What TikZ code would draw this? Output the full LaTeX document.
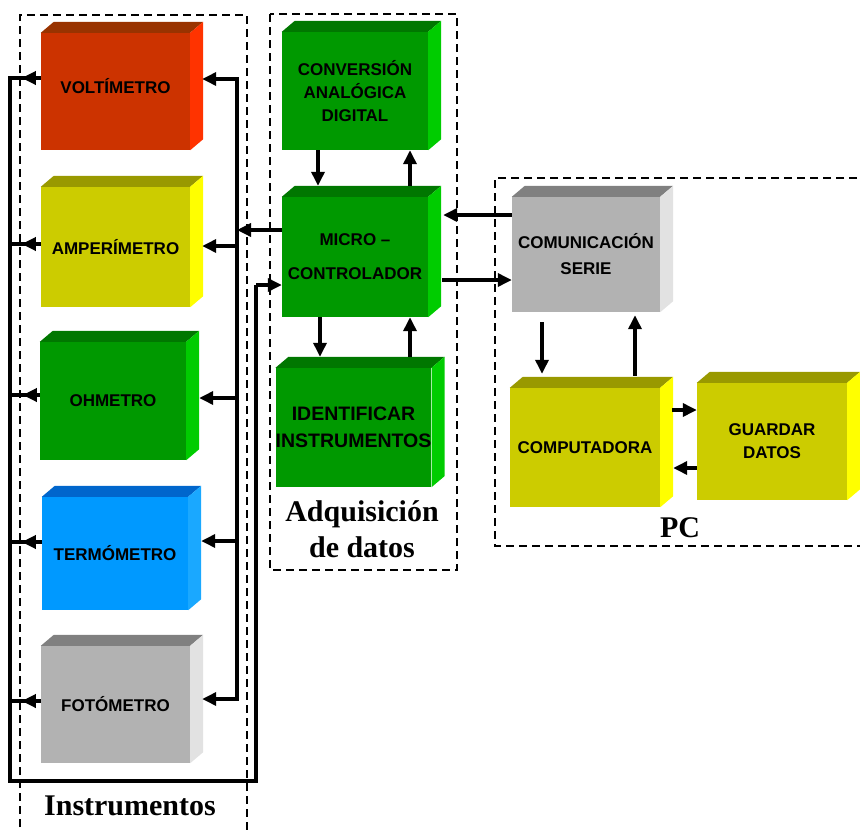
\documentclass[tikz,border=0pt]{standalone}
\usepackage{fontspec}
\setmainfont{Liberation Serif}
\newfontfamily\lsans{Liberation Sans}
\usetikzlibrary{arrows.meta,calc}
\definecolor{redF}{HTML}{CC3300}\definecolor{redT}{HTML}{993300}\definecolor{redS}{HTML}{FF3300}
\definecolor{yelF}{HTML}{CCCC00}\definecolor{yelT}{HTML}{999900}\definecolor{yelS}{HTML}{FFFF00}
\definecolor{grnF}{HTML}{009900}\definecolor{grnT}{HTML}{007700}\definecolor{grnS}{HTML}{00CC00}
\definecolor{bluF}{HTML}{0099FF}\definecolor{bluT}{HTML}{0066CC}\definecolor{bluS}{HTML}{1AA8FF}
\definecolor{gryF}{HTML}{B2B2B2}\definecolor{gryT}{HTML}{808080}\definecolor{gryS}{HTML}{E2E2E2}
\tikzset{
  wire/.style={line width=3.4pt},
  arr/.style={wire,-{Triangle[length=14pt,width=13pt]}},
  frame/.style={line width=2pt,dash pattern=on 8pt off 5pt},
  face/.style={draw=none,inner sep=0pt,align=center,text=black,
    font=\lsans\bfseries\fontsize{17}{23}\selectfont},
  serif/.style={align=center,inner sep=0pt,font=\bfseries\fontsize{30}{36}\selectfont},
}
\newcommand{\cubo}[7]{% name, center, width, height, colour, extra, text
  \node[face,fill=#5F,minimum width=#3pt,minimum height=#4pt,#6] (#1) at (#2) {#7};
  \fill[#5T] (#1.north west) -- ++(13,-11) -- ($(#1.north east)+(13,-11)$) -- (#1.north east) -- cycle;
  \fill[#5S] (#1.north east) -- ++(13,-11) -- ($(#1.south east)+(13,-11)$) -- (#1.south east) -- cycle;
}
\begin{document}
\begin{tikzpicture}[x=1pt,y=-1pt]
\useasboundingbox (0,0) rectangle (860,830);
% dashed frames
\draw[frame] (20,840) -- (20,15) -- (247,15) -- (247,840);
\draw[frame] (270,14) rectangle (457,570);
\draw[frame] (870,178) -- (495,178) -- (495,546) -- (870,546);
% instruments
\cubo{volt}{115.5,91.5}{149}{117}{red}{}{\raisebox{12pt}{VOLTÍMETRO}}
\cubo{amp}{115.5,247}{149}{120}{yel}{}{AMPERÍMETRO}
\cubo{ohm}{113,401}{146}{118}{grn}{}{OHMETRO}
\cubo{term}{115,553.5}{146}{113}{blu}{}{TERMÓMETRO}
\cubo{foto}{115.5,704.5}{149}{117}{gry}{}{FOTÓMETRO}
% acquisition
\cubo{conv}{355,91}{146}{118}{grn}{}{CONVERSIÓN\\ANALÓGICA\\DIGITAL}
\cubo{micro}{355,257}{146}{120}{grn}{}{MICRO –\\[11pt]CONTROLADOR}
\cubo{ident}{353.5,427.5}{153}{119}{grn}{font=\lsans\bfseries\fontsize{19.5}{27}\selectfont}{IDENTIFICAR\\INSTRUMENTOS}
% PC
\cubo{comm}{586,254.5}{148}{115}{gry}{}{COMUNICACIÓN\\[3pt]SERIE}
\cubo{comp}{585,447.5}{150}{119}{yel}{}{COMPUTADORA}
\cubo{guard}{772,441.5}{150}{117}{yel}{}{GUARDAR\\DATOS}
% captions
\node[serif] (tinst) at (130,806) {Instrumentos};
\node[serif] (tadq) at (362,529) {Adquisición\\de datos};
\node[serif] (tpc) at (680,528) {PC};
% left bus (instruments -> microcontroller)
\coordinate (LB1) at (10,78);
\coordinate (LB2) at (10,244);
\coordinate (LB3) at (10,395);
\coordinate (LB4) at (10,542);
\coordinate (LB5) at (10,701);
\coordinate (LBb) at (10,781);
\coordinate (RBb) at (256,781);
\coordinate (RBt) at (256,285);
\draw[wire] (volt.west |- LB1) -- (LB1) -- (LBb) -- (RBb) -- (RBt);
\draw[wire] (amp.west |- LB2) -- (LB2);
\draw[wire] (ohm.west |- LB3) -- (LB3);
\draw[wire] (term.west |- LB4) -- (LB4);
\draw[wire] (foto.west |- LB5) -- (LB5);
\draw[arr] (volt.west |- LB1) -- ++(-19,0);
\draw[arr] (amp.west |- LB2) -- ++(-19,0);
\draw[arr] (ohm.west |- LB3) -- ++(-17,0);
\draw[arr] (term.west |- LB4) -- ++(-20,0);
\draw[arr] (foto.west |- LB5) -- ++(-19,0);
\draw[arr] (RBt) -- (micro.west |- RBt);
% right bus (microcontroller -> instruments)
\coordinate (RB1) at (237,79);
\coordinate (RB2) at (237,246);
\coordinate (RB3) at (237,398);
\coordinate (RB4) at (237,541);
\coordinate (RB5) at (237,699);
\coordinate (RBm) at (237,230);
\draw[wire] ($(volt.east |- RB1)+(20,0)$) -- (RB1) -- (RB5) -- ($(foto.east |- RB5)+(20,0)$);
\draw[arr] (RB1) -- ($(volt.east |- RB1)+(12,0)$);
\draw[arr] (RB2) -- ($(amp.east |- RB2)+(12,0)$);
\draw[arr] (RB3) -- ($(ohm.east |- RB3)+(13,0)$);
\draw[arr] (RB4) -- ($(term.east |- RB4)+(13,0)$);
\draw[arr] (RB5) -- ($(foto.east |- RB5)+(12,0)$);
\draw[arr] (micro.west |- RBm) -- (RBm);
% conversion <-> micro
\coordinate (cx1) at (318,0);
\coordinate (cx2) at (410,0);
\draw[arr] (conv.south -| cx1) -- ($(micro.north -| cx1)+(0,-11)$);
\draw[arr] ($(micro.north -| cx2)+(0,-11)$) -- (conv.south -| cx2);
% micro <-> identificar
\coordinate (ix1) at (320,0);
\coordinate (ix2) at (410,0);
\draw[arr] (micro.south -| ix1) -- ($(ident.north -| ix1)+(0,-11)$);
\draw[arr] ($(ident.north -| ix2)+(0,-11)$) -- (micro.south -| ix2);
% micro <-> comunicacion
\coordinate (my1) at (0,215);
\coordinate (my2) at (0,280);
\draw[arr] (comm.west |- my1) -- ($(micro.east |- my1)+(15,0)$);
\draw[arr] ($(micro.east |- my2)+(14,0)$) -- (comm.west |- my2);
% comunicacion <-> computadora
\coordinate (cx3) at (542,0);
\coordinate (cx4) at (635,0);
\draw[arr] ($(comm.south -| cx3)+(0,10)$) -- ($(comp.north -| cx3)+(0,-14)$);
\draw[arr] ($(comp.north -| cx4)+(0,-12)$) -- ($(comm.south -| cx4)+(0,3)$);
% computadora <-> guardar
\coordinate (gy1) at (0,410);
\coordinate (gy2) at (0,468);
\draw[arr] ($(comp.east |- gy1)+(12,0)$) -- (guard.west |- gy1);
\draw[arr] (guard.west |- gy2) -- ($(comp.east |- gy2)+(13,0)$);
\end{tikzpicture}
\end{document}
